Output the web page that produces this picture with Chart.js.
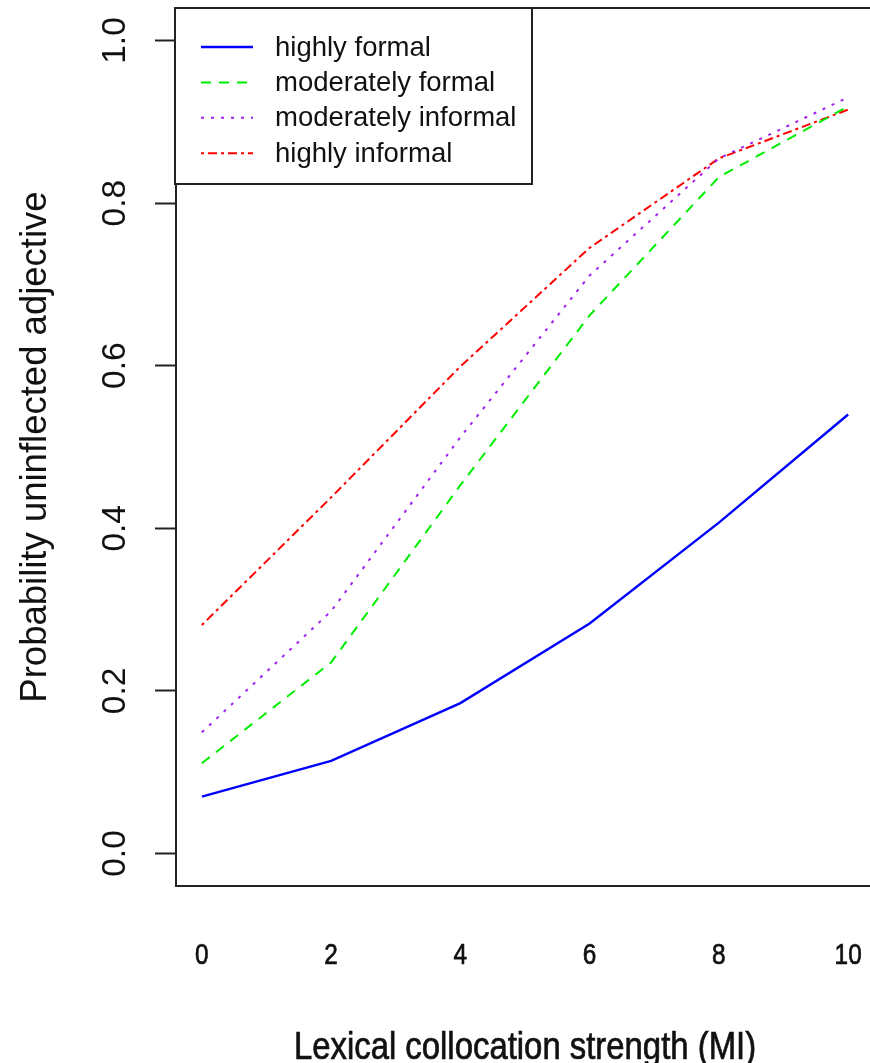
<!DOCTYPE html>
<html>
<head>
<meta charset="utf-8">
<script src="https://cdn.jsdelivr.net/npm/chart.js@4/dist/chart.umd.min.js"></script>
<style>
  html, body { margin: 0; padding: 0; background: #fff; overflow: hidden; }
  canvas { display: block; }
</style>
</head>
<body>
<canvas id="chart" width="880" height="1063"></canvas>
<script>
// collocation strength (MI) values where the curves were evaluated
const mi = [0, 2, 4, 6, 8, 10]

// predicted probability of the uninflected adjective, by register
const highlyFormal = [0.070, 0.114, 0.185, 0.283, 0.407, 0.540]
const moderatelyFormal = [0.111, 0.235, 0.453, 0.662, 0.832, 0.919]
const moderatelyInformal = [0.149, 0.298, 0.512, 0.711, 0.855, 0.930]
const highlyInformal = [0.281, 0.438, 0.599, 0.745, 0.855, 0.915]

const seriesNames = ['highly formal', 'moderately formal', 'moderately informal', 'highly informal']

const xTicks = [0, 2, 4, 6, 8, 10]
const yTicks = [0, 0.2, 0.4, 0.6, 0.8, 1.0]
const xTitle = 'Lexical collocation strength (MI)'
const yTitle = 'Probability uninflected adjective'

const ink = '#111'
const sans = '"Liberation Sans", Arial, sans-serif'

function points(values) {
  return mi.map((x, i) => ({ x: x, y: values[i] }))
}

// frame around the plot region, like R's box()
const frame = {
  id: 'frame',
  afterDatasetsDraw(chart) {
    let { ctx, chartArea: a } = chart
    ctx.save()
    ctx.strokeStyle = '#222'
    ctx.lineWidth = 2
    ctx.strokeRect(a.left, a.top, a.right - a.left, a.bottom - a.top)
    ctx.restore()
  }
}

// the x axis text in the original is a condensed face; no narrow font is
// installed, so squeeze the regular one horizontally
function narrowText(ctx, text, x, y, size, squeeze) {
  ctx.save()
  ctx.translate(x, y)
  ctx.scale(squeeze, 1)
  ctx.font = size + 'px ' + sans
  ctx.textAlign = 'center'
  ctx.textBaseline = 'alphabetic'
  ctx.fillStyle = ink
  ctx.strokeStyle = ink
  ctx.lineWidth = 0.7
  ctx.fillText(text, 0, 0)
  ctx.strokeText(text, 0, 0)
  ctx.restore()
}

const xAxisText = {
  id: 'xAxisText',
  afterDraw(chart) {
    let { ctx, scales: { x } } = chart
    xTicks.forEach(v => {
      narrowText(ctx, String(v), x.getPixelForValue(v), 964, 29, 0.84)
    })
    narrowText(ctx, xTitle, (x.left + x.right) / 2, 1059, 38, 0.865)
  }
}

// boxed legend in the top-left corner, drawn from the datasets
const boxLegend = {
  id: 'boxLegend',
  afterDraw(chart) {
    let { ctx, chartArea: a } = chart
    let left = a.left - 1
    let top = a.top
    ctx.save()
    ctx.fillStyle = '#fff'
    ctx.fillRect(left, top, 357, 176)
    ctx.strokeStyle = '#222'
    ctx.lineWidth = 2
    ctx.strokeRect(left, top, 357, 176)

    ctx.font = '27.5px ' + sans
    ctx.textBaseline = 'middle'
    ctx.textAlign = 'left'
    chart.data.datasets.forEach((ds, i) => {
      let y = top + 39 + i * 35.4
      ctx.beginPath()
      ctx.setLineDash(ds.borderDash || [])
      ctx.strokeStyle = ds.borderColor
      ctx.lineWidth = ds.borderWidth
      ctx.moveTo(left + 26, y)
      ctx.lineTo(left + 78, y)
      ctx.stroke()
      ctx.setLineDash([])
      ctx.fillStyle = ink
      ctx.fillText(ds.label, left + 100, y + 1)
    })
    ctx.restore()
  }
}

let chart = new Chart(document.getElementById('chart'), {
  type: 'line',
  data: {
    datasets: [
      { label: seriesNames[0], data: points(highlyFormal), borderColor: '#0000ff', borderWidth: 2.4, borderDash: [] },
      { label: seriesNames[1], data: points(moderatelyFormal), borderColor: '#00ee00', borderWidth: 2, borderDash: [10, 8] },
      { label: seriesNames[2], data: points(moderatelyInformal), borderColor: '#a020f0', borderWidth: 2, borderDash: [3, 7] },
      { label: seriesNames[3], data: points(highlyInformal), borderColor: '#ff0000', borderWidth: 2, borderDash: [3, 4, 9, 4] }
    ]
  },
  options: {
    responsive: false,
    animation: false,
    devicePixelRatio: 1,
    layout: { padding: { top: 8, right: 6, left: 0, bottom: 0 } },
    elements: {
      point: { radius: 0 },
      line: { tension: 0, fill: false }
    },
    plugins: {
      legend: { display: false },
      tooltip: { enabled: false }
    },
    scales: {
      x: {
        type: 'linear',
        min: -0.4,
        max: 10.4,
        afterFit(scale) {
          scale.height = 177
          scale.paddingLeft = 0
          scale.paddingRight = 0
        },
        afterBuildTicks(scale) { scale.ticks = xTicks.map(v => ({ value: v })) },
        grid: { display: false },
        border: { display: false },
        ticks: { display: false },
        title: { display: false }
      },
      y: {
        type: 'linear',
        min: -0.04,
        max: 1.04,
        afterFit(scale) {
          scale.width = 176
          scale.paddingTop = 0
          scale.paddingBottom = 0
        },
        afterBuildTicks(scale) { scale.ticks = yTicks.map(v => ({ value: v })) },
        grid: {
          drawOnChartArea: false,
          drawTicks: true,
          tickLength: 21,
          tickColor: '#222',
          tickWidth: 2
        },
        border: { display: false },
        ticks: {
          padding: 16,
          color: ink,
          minRotation: 90,
          maxRotation: 90,
          crossAlign: 'center',
          font: { family: sans, size: 33.5 },
          callback: v => v.toFixed(1)
        },
        title: {
          display: true,
          text: yTitle,
          color: ink,
          font: { family: sans, size: 36.5 },
          padding: { top: 14, bottom: 0 }
        }
      }
    }
  },
  plugins: [frame, xAxisText, boxLegend]
})
</script>
</body>
</html>
